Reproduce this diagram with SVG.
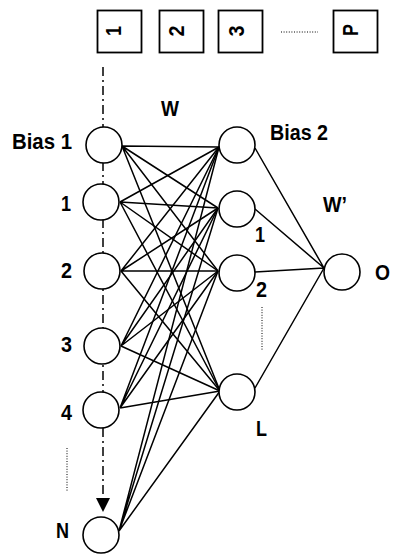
<svg xmlns="http://www.w3.org/2000/svg" width="393" height="554" viewBox="0 0 393 554">
<style>
.n{fill:#fff;stroke:#000;stroke-width:1.6}
.e{stroke:#000;stroke-width:1.5;fill:none}
.t{font-family:"Liberation Sans",Arial,sans-serif;font-weight:bold;font-size:22.5px;fill:#000}
.box{fill:#fff;stroke:#000;stroke-width:1.8}
.dot{stroke:#000;stroke-width:1;stroke-dasharray:1,1.6;fill:none}
</style>
<rect width="393" height="554" fill="#fff"/>
<g id="inputs-boxes">
<g id="box1"><rect class="box" x="97.5" y="10.5" width="44" height="42"/><text class="t" transform="translate(121,31) rotate(-90)" text-anchor="middle" textLength="10" lengthAdjust="spacingAndGlyphs">1</text></g>
<g id="box2"><rect class="box" x="159.5" y="10.5" width="44" height="42"/><text class="t" transform="translate(184,31) rotate(-90)" text-anchor="middle" textLength="11" lengthAdjust="spacingAndGlyphs">2</text></g>
<g id="box3"><rect class="box" x="218.5" y="10.5" width="44" height="42"/><text class="t" transform="translate(244,31) rotate(-90)" text-anchor="middle" textLength="11" lengthAdjust="spacingAndGlyphs">3</text></g>
<g id="boxP"><rect class="box" x="333.5" y="10.5" width="44" height="42"/><text class="t" transform="translate(358,30) rotate(-90)" text-anchor="middle" textLength="12" lengthAdjust="spacingAndGlyphs">P</text></g>
<path class="dot" d="M281,32H318"/>
</g>
<g id="connectors">
<path d="M103,67V498" stroke="#000" stroke-width="1.5" stroke-dasharray="9,4,2,4" fill="none"/>
<polygon points="96,498 110,498 103,512" fill="#000"/>
<g class="e">
<path d="M122,146L219,147M122,146L218,208M122,146L218,271M122,146L220,391"/>
<path d="M120,202L219,147M120,202L218,208M120,202L218,271M120,202L220,391"/>
<path d="M121,271L219,147M121,271L218,208M121,271L218,271M121,271L220,391"/>
<path d="M121,346L219,147M121,346L218,208M121,346L218,271M121,346L220,391"/>
<path d="M120,408L219,147M120,408L218,208M120,408L218,271M120,408L220,391"/>
<path d="M119,531L219,147M119,531L218,208M119,531L218,271M119,531L220,391"/>
<path d="M255,148L324,268M255,209L324,268M255,272L324,268M255,388L324,268"/>
</g>
<path class="dot" d="M67,448V492M262,307V350"/>
</g>
<g id="in-bias1"><circle class="n" cx="104" cy="145" r="18"/><text class="t" x="72" y="149" text-anchor="end" textLength="60" lengthAdjust="spacingAndGlyphs">Bias 1</text></g>
<g id="in-1"><circle class="n" cx="101" cy="202" r="18"/><text class="t" x="71" y="211" text-anchor="end" textLength="10" lengthAdjust="spacingAndGlyphs">1</text></g>
<g id="in-2"><circle class="n" cx="102" cy="271" r="18"/><text class="t" x="72" y="278" text-anchor="end" textLength="11" lengthAdjust="spacingAndGlyphs">2</text></g>
<g id="in-3"><circle class="n" cx="102" cy="346" r="18"/><text class="t" x="72" y="352" text-anchor="end" textLength="11" lengthAdjust="spacingAndGlyphs">3</text></g>
<g id="in-4"><circle class="n" cx="101" cy="410" r="18"/><text class="t" x="72" y="420" text-anchor="end" textLength="11" lengthAdjust="spacingAndGlyphs">4</text></g>
<g id="in-N"><circle class="n" cx="101" cy="535" r="18"/><text class="t" x="69" y="538" text-anchor="end" textLength="13" lengthAdjust="spacingAndGlyphs">N</text></g>
<g id="h-bias2"><circle class="n" cx="237" cy="145" r="18"/><text class="t" x="270" y="140" textLength="58" lengthAdjust="spacingAndGlyphs">Bias 2</text></g>
<g id="h-1"><circle class="n" cx="237" cy="209" r="18"/><text class="t" x="255" y="242" textLength="10" lengthAdjust="spacingAndGlyphs">1</text></g>
<g id="h-2"><circle class="n" cx="237" cy="273" r="18"/><text class="t" x="256" y="297" textLength="11" lengthAdjust="spacingAndGlyphs">2</text></g>
<g id="h-L"><circle class="n" cx="237" cy="392" r="18"/><text class="t" x="256" y="436" textLength="11" lengthAdjust="spacingAndGlyphs">L</text></g>
<g id="out-O"><circle class="n" cx="342" cy="272" r="18"/><text class="t" x="375" y="280" textLength="15" lengthAdjust="spacingAndGlyphs">O</text></g>
<text class="t" x="170" y="116" text-anchor="middle" textLength="18" lengthAdjust="spacingAndGlyphs">W</text>
<text class="t" x="323" y="212" textLength="24" lengthAdjust="spacingAndGlyphs">W’</text>
</svg>
